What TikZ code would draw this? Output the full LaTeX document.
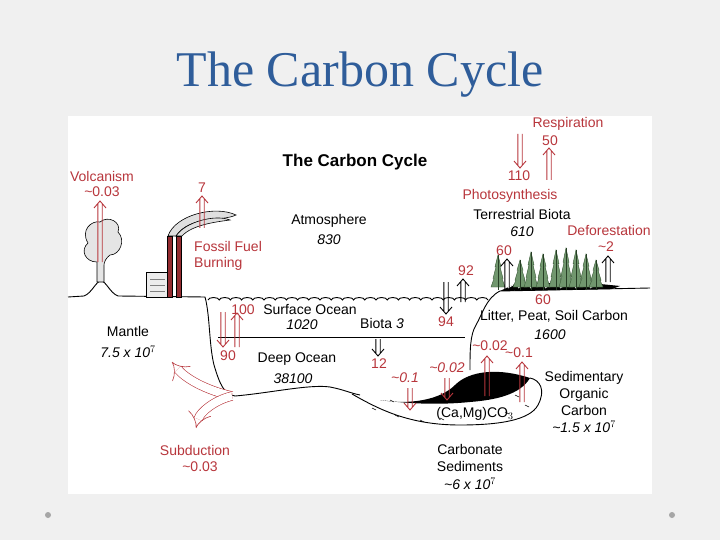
\documentclass[tikz,border=0pt]{standalone}
\usepackage{fontspec}
\setmainfont{Liberation Sans}
\newfontfamily\titlefont{Liberation Serif}
\usetikzlibrary{arrows.meta,calc}
\definecolor{cred}{HTML}{B8363C}
\definecolor{ttl}{HTML}{2F5D9A}
\definecolor{tgreen}{HTML}{4E7D4A}
\tikzset{
  t/.style={font=\fontsize{14}{16}\selectfont, inner sep=0pt},
  r/.style={t, text=cred},
  it/.style={t, font=\fontsize{14}{16}\selectfont\itshape},
  tree/.style={fill=tgreen!80, draw=tgreen!70!black, line width=0.4pt},
  ln/.style={line width=0.9pt},
}
\newcommand\vflux[3]{%
  \draw[#1, line width=0.9pt, line join=miter] let \p1=(#2), \p2=(#3), \n1={sign(\y2-\y1)} in
    (\x1-2.2pt,\y1) -- (\x2-2.2pt,\y2-\n1*2.6pt)
    (\x1+2.2pt,\y1) -- (\x2+2.2pt,\y2-\n1*2.6pt)
    (\x2-6pt,\y2-\n1*7pt) -- (\x2,\y2) -- (\x2+6pt,\y2-\n1*7pt);}
\begin{document}
\begin{tikzpicture}[x=1pt,y=-1pt]
\useasboundingbox (0,0) rectangle (720,540);
\fill[gray!12] (0,0) rectangle (720,540);
\fill[white] (68,116) rectangle (652,494);
% title
\node[text=ttl, font=\titlefont\fontsize{50}{54}\selectfont] (title) at (360,75) {The Carbon Cycle};
\fill[gray!70] (48,515) circle (3);
\fill[gray!70] (672,515) circle (3);
% ground / coasts
\draw[ln] (68,297) -- (84,296) .. controls (92,293) and (96,281) .. (101,281) .. controls (106,281) and (110,293) .. (118,296) -- (205,297)
  .. controls (210,315) and (209,345) .. (214,365) .. controls (220,385) and (224,394) .. (235,396)
  .. controls (270,393) and (310,384) .. (330,387) .. controls (345,390) and (350,393) .. (360,395);
\draw[ln] (352,394) .. controls (380,410) and (410,425) .. (460,425) .. controls (500,425) and (530,420) .. (538,405) .. controls (546,390) and (540,380) .. (530,378);
\fill[black] (380,400) .. controls (410,405) and (440,400) .. (455,385) .. controls (470,370) and (500,368) .. (530,378) .. controls (520,395) and (495,400) .. (470,402) .. controls (440,405) and (410,404) .. (380,400) -- cycle;
\foreach \a/\b in {372/408,395/415,420/420,505/412,525/405,390/400,440/418,515/395}
  \draw[line width=0.5pt] (\a,\b) -- ++(4,2);
\draw[ln] (470,370) .. controls (470,350) and (470,335) .. (476,325) .. controls (482,315) and (486,298) .. (500,291) -- (650,288);
\draw[ln] (208,300) foreach \i in {0,...,24} { arc (180:360:5.6 and 2.5) };
\draw[line width=1.1pt] (218,337.5) -- (465,337.5);
% land litter
\fill[black] (500,291) -- (515,284) -- (545,283) -- (600,284) -- (620,286) -- (612,289) -- cycle;
\foreach \x in {508,518,530,545,560,575,590}
  \draw[white,line width=0.8pt] (\x,288) -- ++(5,-3);
% trees
\foreach \x/\h in {498/35,520/30,531/38,543/36,556/40,566/42,576/40,586/36,596/30}{
  \path[tree] (\x,290-\h) -- (\x+3,290-0.66*\h) -- (\x+2,290-0.66*\h) -- (\x+5,290-0.33*\h) -- (\x+4,290-0.33*\h) -- (\x+7,287)
    -- (\x-7,287) -- (\x-4,290-0.33*\h) -- (\x-5,290-0.33*\h) -- (\x-2,290-0.66*\h) -- (\x-3,290-0.66*\h) -- cycle;
  \draw[tgreen!50!black, line width=0.6pt] (\x,290) -- (\x,290-\h);
}
% volcano plume
\draw[fill=gray!20, line width=0.6pt] (97,282) -- (97,262) .. controls (85,262) and (80,250) .. (88,243) .. controls (80,230) and (92,220) .. (100,222) .. controls (108,215) and (122,222) .. (118,232) .. controls (126,240) and (120,255) .. (110,255) .. controls (106,258) and (104,262) .. (104,265) -- (104,282) -- cycle;
% factory
\draw[fill=gray!15, line width=0.6pt] (146,272) rectangle (172,297);
\foreach \yy in {279,285,291} \draw[gray, line width=0.5pt] (150,\yy) -- (165,\yy);
\draw[fill=gray!25, line width=0.6pt] (168,236) .. controls (175,215) and (215,205) .. (236,215) .. controls (222,222) and (190,215) .. (176,236) -- cycle;
\draw[fill=gray!25, line width=0.6pt] (176,236) .. controls (185,222) and (215,214) .. (230,220) .. controls (215,222) and (192,225) .. (182,236) -- cycle;
\draw[fill=cred!80!black, line width=0.6pt] (167,236) rectangle (172,297);
\draw[fill=cred!80!black, line width=0.6pt] (176,236) rectangle (181,297);
% text nodes
\node[t, font=\fontsize{17}{20}\selectfont\bfseries] (ttl2) at (355,162) {The Carbon Cycle};
\node[r] (volc) at (102,176) {Volcanism};
\node[r] (volcv) at (102,192) {\textasciitilde0.03};
\node[r] (ff7) at (202,188) {7};
\node[r, anchor=west] (ff1) at (194,246) {Fossil Fuel};
\node[r, anchor=west] (ff2) at (194,264) {Burning};
\node[t] (atm) at (329,221) {Atmosphere};
\node[it] (atmv) at (329,240) {830};
\node[r] (resp) at (568,124) {Respiration};
\node[r] (resp50) at (550,141) {50};
\node[r] (p110) at (519,176) {110};
\node[r] (photo) at (510,196) {Photosynthesis};
\node[t] (tb) at (522,214) {Terrestrial Biota};
\node[it] (tbv) at (522,232) {610};
\node[r] (defo) at (609,230) {Deforestation};
\node[r] (defov) at (606,247) {\textasciitilde2};
\node[r] (l60) at (504,251) {60};
\node[r] (o92) at (466,271) {92};
\node[r] (r60) at (543,300) {60};
\node[r] (o94) at (446,322) {94};
\node[t] (lit) at (554,316) {Litter, Peat, Soil Carbon};
\node[it] (litv) at (550,335) {1600};
\node[r] (s100) at (243,310) {100};
\node[t] (so) at (310,310) {Surface Ocean};
\node[it] (sov) at (302,325) {1020};
\node[t] (bio) at (382,323) {Biota \textit{3}};
\node[t] (man) at (128,331) {Mantle};
\node[it] (manv) at (128,352) {7.5 x 10$^{7}$};
\node[r] (d90) at (228,356) {90};
\node[t] (do) at (297,359) {Deep Ocean};
\node[it] (dov) at (293,379) {38100};
\node[r] (b12) at (379,364) {12};
\node[r, font=\fontsize{14}{16}\selectfont\itshape] (c01a) at (405,378) {\textasciitilde0.1};
\node[r, font=\fontsize{14}{16}\selectfont\itshape] (c02a) at (447,368) {\textasciitilde0.02};
\node[r] (c02b) at (490,346) {\textasciitilde0.02};
\node[r] (c01b) at (519,353) {\textasciitilde0.1};
\node[t, align=center] (sed) at (584,393) {Sedimentary\\[1pt]Organic\\[1pt]Carbon};
\node[it] (sedv) at (584,427) {\textasciitilde1.5 x 10$^{7}$};
\node[t] (camg) at (475,414) {(Ca,Mg)CO$_{3}$};
\node[t, align=center] (cs) at (470,458) {Carbonate\\[1pt]Sediments};
\node[it] (csv) at (470,484) {\textasciitilde6 x 10$^{7}$};
\node[r] (sub) at (195,450) {Subduction};
\node[r] (subv) at (200,467) {\textasciitilde0.03};
% flux arrows
\coordinate (a1s) at (100,262); \coordinate (a1e) at (100,201);
\coordinate (a2s) at (202,228); \coordinate (a2e) at (202,196);
\coordinate (a3s) at (549,180); \coordinate (a3e) at (549,148);
\coordinate (a4s) at (520,134); \coordinate (a4e) at (520,168);
\coordinate (a5s) at (507,290); \coordinate (a5e) at (507,259);
\coordinate (a6s) at (463,302); \coordinate (a6e) at (463,279);
\coordinate (a7s) at (446,282); \coordinate (a7e) at (446,314);
\coordinate (a8s) at (608,282); \coordinate (a8e) at (608,256);
\coordinate (a9s) at (237,347); \coordinate (a9e) at (237,313);
\coordinate (a10s) at (223,312); \coordinate (a10e) at (223,347);
\coordinate (a11s) at (378,339); \coordinate (a11e) at (378,356);
\coordinate (a12s) at (410,388); \coordinate (a12e) at (410,410);
\coordinate (a13s) at (447,378); \coordinate (a13e) at (447,400);
\coordinate (a14s) at (487,396); \coordinate (a14e) at (487,356);
\coordinate (a15s) at (522,402); \coordinate (a15e) at (522,362);
\vflux{cred}{a1s}{a1e}
\vflux{cred}{a2s}{a2e}
\vflux{cred}{a3s}{a3e}
\vflux{cred}{a4s}{a4e}
\vflux{black}{a5s}{a5e}
\vflux{black}{a6s}{a6e}
\vflux{black}{a7s}{a7e}
\vflux{black}{a8s}{a8e}
\vflux{cred}{a9s}{a9e}
\vflux{cred}{a10s}{a10e}
\vflux{black}{a11s}{a11e}
\vflux{cred}{a12s}{a12e}
\vflux{cred}{a13s}{a13e}
\vflux{cred}{a14s}{a14e}
\vflux{cred}{a15s}{a15e}
% subduction arrows
\coordinate (sb0) at (232,396);
\coordinate (sb1) at (172,362);
\coordinate (sb2) at (196,428);
\draw[cred, double, double distance=8pt, line width=0.6pt, -{Implies[length=10pt]}] (sb0) .. controls (205,390) and (185,378) .. (sb1);
\draw[cred, double, double distance=8pt, line width=0.6pt, -{Implies[length=10pt]}] (sb0) .. controls (215,400) and (200,412) .. (sb2);
\end{tikzpicture}
\end{document}
